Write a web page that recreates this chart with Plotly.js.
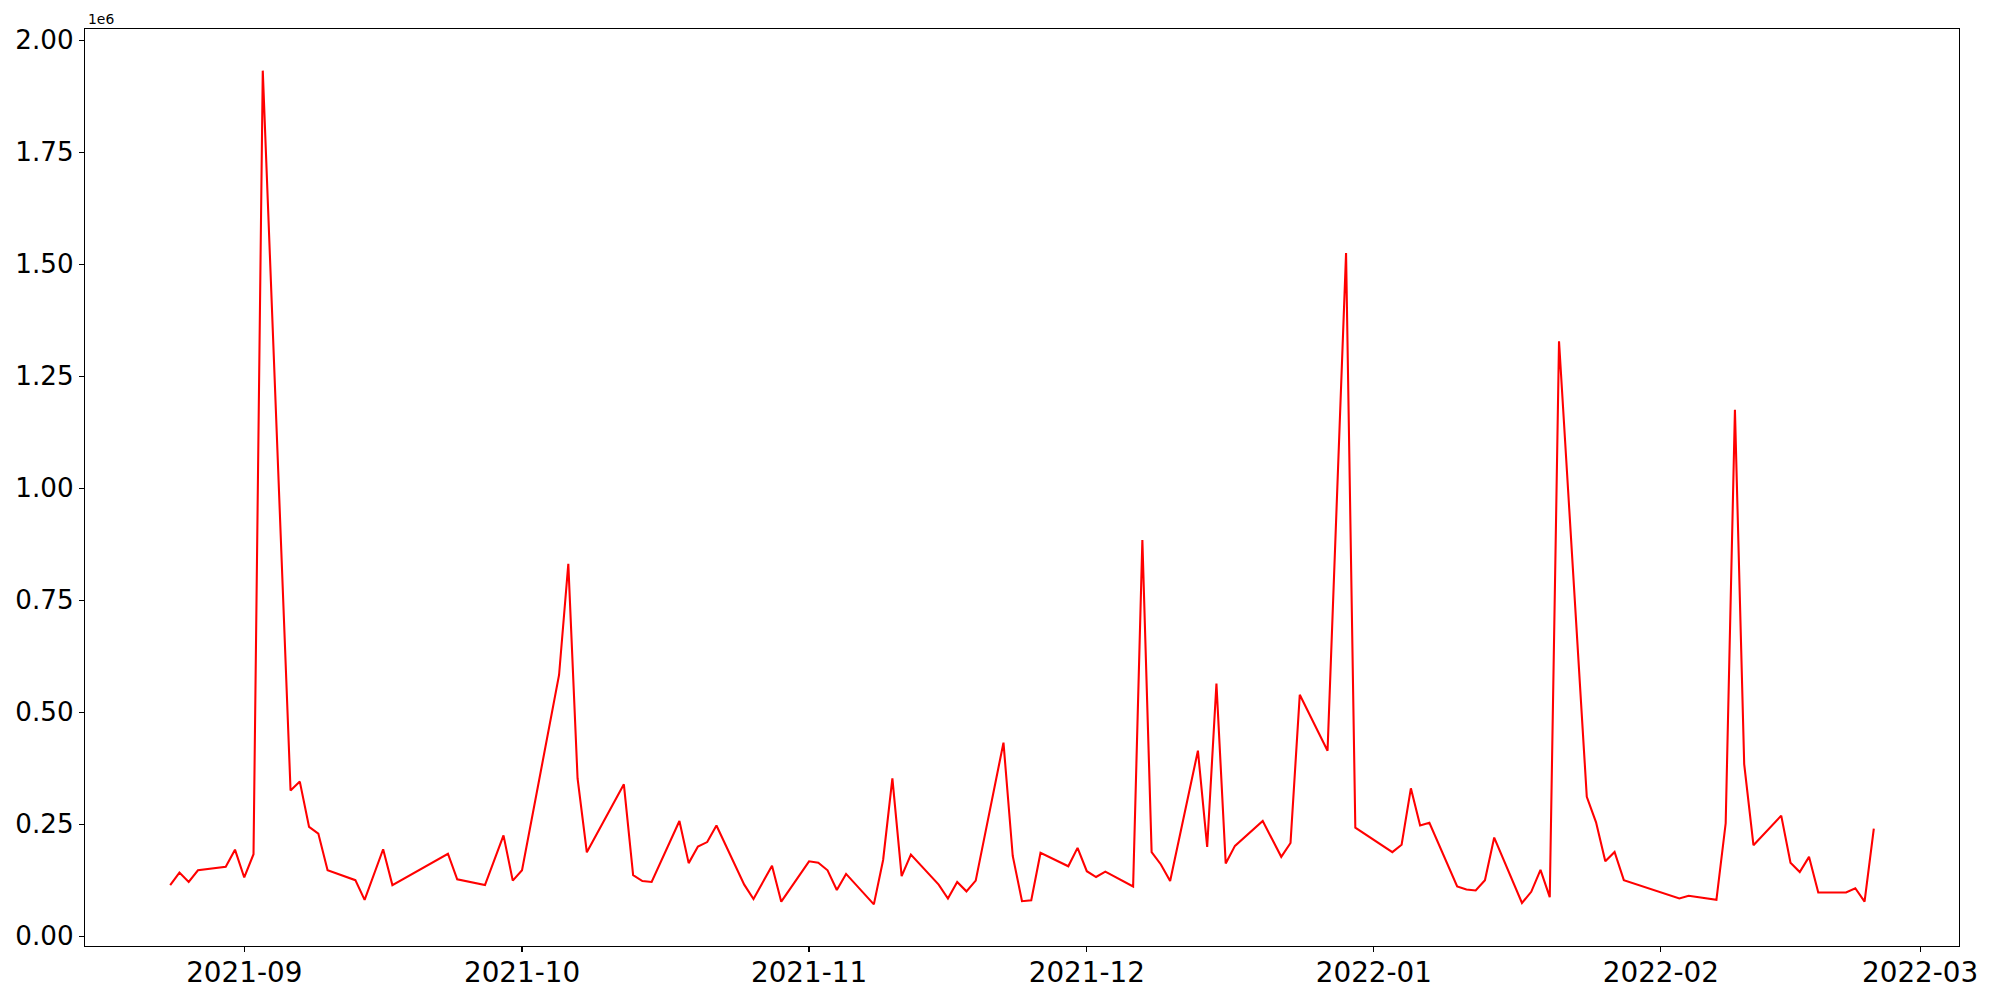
<!DOCTYPE html>
<html>
<head>
<meta charset="utf-8">
<script src="https://cdn.plot.ly/plotly-3.0.1.min.js"></script>
<style>html,body{margin:0;padding:0;background:#fff;}#chart{width:2000px;height:1000px;}</style>
</head>
<body>
<div id="chart"></div>
<script>
const dates = [
 "2021-08-24","2021-08-25","2021-08-26","2021-08-27","2021-08-30","2021-08-31",
 "2021-09-01","2021-09-02","2021-09-03","2021-09-06","2021-09-07","2021-09-08","2021-09-09","2021-09-10",
 "2021-09-13","2021-09-14","2021-09-16","2021-09-17","2021-09-23","2021-09-24","2021-09-27","2021-09-29","2021-09-30",
 "2021-10-01","2021-10-05","2021-10-06","2021-10-07","2021-10-08","2021-10-12","2021-10-13","2021-10-14","2021-10-15",
 "2021-10-18","2021-10-19","2021-10-20","2021-10-21","2021-10-22","2021-10-25","2021-10-26","2021-10-28","2021-10-29",
 "2021-11-01","2021-11-02","2021-11-03","2021-11-04","2021-11-05","2021-11-08","2021-11-09","2021-11-10","2021-11-11","2021-11-12",
 "2021-11-15","2021-11-16","2021-11-17","2021-11-18","2021-11-19","2021-11-22","2021-11-23","2021-11-24","2021-11-25","2021-11-26",
 "2021-11-29","2021-11-30","2021-12-01","2021-12-02","2021-12-03","2021-12-06","2021-12-07","2021-12-08","2021-12-09","2021-12-10",
 "2021-12-13","2021-12-14","2021-12-15","2021-12-16","2021-12-17","2021-12-20","2021-12-22","2021-12-23","2021-12-24",
 "2021-12-27","2021-12-29","2021-12-30","2022-01-03","2022-01-04","2022-01-05","2022-01-06","2022-01-07",
 "2022-01-10","2022-01-11","2022-01-12","2022-01-13","2022-01-14","2022-01-17","2022-01-18","2022-01-19","2022-01-20","2022-01-21",
 "2022-01-24","2022-01-25","2022-01-26","2022-01-27","2022-01-28","2022-02-03","2022-02-04","2022-02-07","2022-02-08","2022-02-09",
 "2022-02-10","2022-02-11","2022-02-14","2022-02-15","2022-02-16","2022-02-17","2022-02-18","2022-02-21","2022-02-22","2022-02-23","2022-02-24"
];
const values = [
 114000,142000,121000,147000,155000,193000,
 131000,183000,1932000,325000,345000,244000,229000,147000,
 125000,81000,194000,114000,184000,127000,114000,225000,124000,
 147000,583000,831000,352000,187000,339000,136000,123000,121000,
 257000,163000,200000,210000,247000,115000,83000,157000,77000,
 167000,164000,147000,103000,139000,71000,170000,352000,134000,182000,
 115000,84000,121000,100000,124000,432000,179000,78000,80000,186000,
 156000,197000,145000,132000,144000,111000,884000,187500,160000,123000,
 414000,199000,564000,162000,201500,257000,177000,208000,539000,
 414000,1525000,242000,187500,204000,330000,247000,253000,
 111000,104000,102000,125000,220000,74000,99000,148000,87000,1328000,
 311000,254000,167000,188000,125000,84000,90000,81000,252000,1175000,
 384000,203000,269000,164000,143000,177000,97500,97500,107000,77000,240000
];
const xTickVals = ["2021-09-01","2021-10-01","2021-11-01","2021-12-01","2022-01-01","2022-02-01","2022-03-01"];
const xTickText = ["2021-09","2021-10","2021-11","2021-12","2022-01","2022-02","2022-03"];
const yTickVals = [0,250000,500000,750000,1000000,1250000,1500000,1750000,2000000];
const yTickText = ["0.00","0.25","0.50","0.75","1.00","1.25","1.50","1.75","2.00"];
const offsetText = "1e6";

const font = "DejaVu Sans, Liberation Sans, sans-serif";
const trace = {
  x: dates, y: values, type: "scatter", mode: "lines",
  line: {color: "#ff0000", width: 2.08}, hoverinfo: "x+y", showlegend: false
};
const layout = {
  width: 2000, height: 1000,
  margin: {l: 85, r: 41, t: 29, b: 54, pad: 0},
  paper_bgcolor: "#ffffff", plot_bgcolor: "#ffffff",
  font: {family: font, color: "#000000"},
  showlegend: false,
  xaxis: {
    type: "date",
    range: ["2021-08-14 19:12", "2022-03-05 04:48"],
    tickmode: "array", tickvals: xTickVals, ticktext: xTickText,
    ticks: "outside", ticklen: 5, tickwidth: 1.1, tickcolor: "#000",
    showline: true, linecolor: "#000", linewidth: 1.1, mirror: true,
    showgrid: false, zeroline: false, ticklabelstandoff: -3,
    tickfont: {family: font, size: 27.8, color: "#000"}
  },
  yaxis: {
    range: [-22000, 2025000],
    tickmode: "array", tickvals: yTickVals, ticktext: yTickText,
    ticks: "outside", ticklen: 5, tickwidth: 1.1, tickcolor: "#000",
    showline: true, linecolor: "#000", linewidth: 1.1, mirror: true,
    showgrid: false, zeroline: false,
    tickfont: {family: font, size: 26.2, color: "#000"}
  },
  annotations: [{
    text: offsetText, xref: "paper", yref: "paper", x: 0, y: 1,
    xanchor: "left", yanchor: "bottom", showarrow: false, xshift: 1, yshift: 0,
    font: {family: font, size: 13.9, color: "#000"}
  }]
};
Plotly.newPlot("chart", [trace], layout, {displayModeBar: false, staticPlot: true});
</script>
</body>
</html>
